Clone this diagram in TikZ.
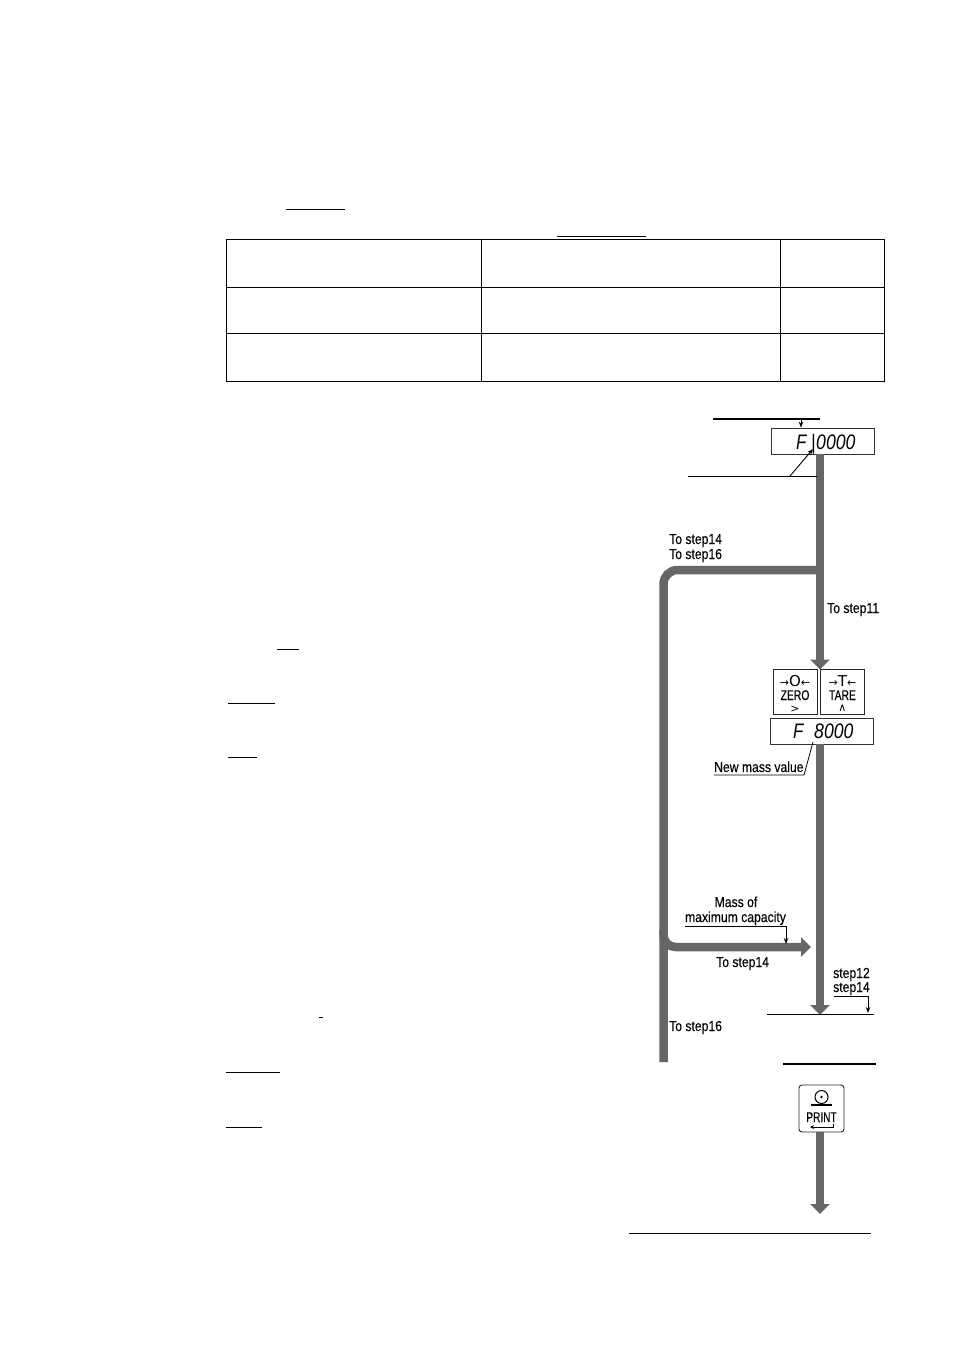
\documentclass[tikz,border=0pt]{standalone}
\usepackage{fontspec}
\setmainfont{Liberation Sans}
\newfontfamily\symfont{DejaVu Sans}
\newfontfamily\lblfont[FakeBold=0.25]{Liberation Sans}
\usetikzlibrary{arrows.meta}
\definecolor{flowgrey}{gray}{0.40}
\tikzset{
  flow/.style={draw=flowgrey,line width=8.5pt},
  flowarrow/.style={flow,-{Triangle[width=19pt,length=10pt,fill=flowgrey]},shorten >=-1pt},
  rule/.style={draw=black,line width=0.8pt},
  thickrule/.style={draw=black,line width=2pt},
  pointer/.style={draw=black,line width=0.9pt,-{Stealth[length=6pt,width=4.5pt]}},
  cell/.style={draw=black,line width=0.9pt},
  label/.style={inner sep=0pt,font=\lblfont\fontsize{14.5}{15}\selectfont,anchor=base west},
  lcd/.style={draw=black!80,line width=0.8pt,fill=white,rectangle,minimum width=#1,minimum height=26pt,inner sep=0pt},
  lcdtext/.style={inner sep=0pt,font=\fontsize{21}{21}\itshape\selectfont,anchor=base west},
  keybox/.style={draw=black!85,line width=0.9pt,fill=white,rectangle,minimum width=44pt,minimum height=45pt,inner sep=0pt},
  keytext/.style={inner sep=0pt,font=\lblfont\fontsize{14}{14}\selectfont,anchor=base},
  keysym/.style={inner sep=0pt,font=\symfont\fontsize{13}{13}\selectfont,anchor=base},
}
\newcommand{\lbl}[1]{\scalebox{0.84}[1]{#1}}
\begin{document}
\begin{tikzpicture}[x=1pt,y=-1pt]
\useasboundingbox (0,0) rectangle (954,1350);
\fill[white] (0,0) rectangle (954,1350);

% text-side underlines
\foreach \xa/\xb/\yy in {286/345/209,557/646/236,277/299/649,228/275/703,228/257/757,319/323/1017,226/280/1072,226/262/1127}
  \draw[rule] (\xa,\yy) -- (\xb,\yy);

% table
\draw[cell] (226,239) rectangle (884,381);
\draw[cell] (226,287) -- (884,287);
\draw[cell] (226,333) -- (884,333);
\draw[cell] (481,239) -- (481,381);
\draw[cell] (780,239) -- (780,381);

% named points
\coordinate (split) at (820,570);
\coordinate (corner) at (663.5,570);
\coordinate (leftend) at (663.5,1062);
\coordinate (branch) at (663.5,930);
\coordinate (capend) at (810,947);
\coordinate (stepbase) at (820,1014);
\coordinate (printend) at (820,1213);

% displays and keys
\node[lcd=103pt] (disp1) at (822.5,441) {};
\node[keybox] (zero) at (795,691.5) {};
\node[keybox] (tare) at (842.5,691.5) {};
\node[lcd=103pt] (disp2) at (821.5,731) {};
\node[keybox,rounded corners=3pt,minimum width=45pt,minimum height=47pt] (print) at (821.5,1108.5) {};

% flow lines
\draw[flow] (disp1.south -| split) -- (split);
\draw[flowarrow] (split) -- (split |- zero.north);
\draw[flow,rounded corners=14pt] (split) -- (corner) -- (leftend);
\draw[flowarrow,rounded corners=12pt] (branch) -- (branch |- capend) -- (capend);
\draw[flowarrow] (disp2.south -| split) -- (stepbase);
\draw[flowarrow] (print.south -| printend) -- (printend);

% display text
\node[lcdtext] (dtF1) at (796,449) {\scalebox{0.8}[1]{F}};
\node[lcdtext] (dtBar) at (811,449) {\scalebox{0.8}[1]{|}};
\node[lcdtext] (dtV1) at (816,449) {\scalebox{0.84}[1]{0000}};
\node[lcdtext] (dtF2) at (793,738) {\scalebox{0.8}[1]{F}};
\node[lcdtext] (dtV2) at (814,738) {\scalebox{0.84}[1]{8000}};

% key text
\node[keysym] (zs) at (795,686) {\fontsize{11}{11}\selectfont →\fontsize{15}{15}\selectfont O\fontsize{11}{11}\selectfont ←};
\node[keytext] (zt) at (795,700) {\scalebox{0.74}[1]{ZERO}};
\node[keysym] (zg) at (795,712) {\fontsize{11}{11}\selectfont >};
\node[keysym] (ts) at (842.5,686) {\fontsize{11}{11}\selectfont →\fontsize{15}{15}\selectfont T\fontsize{11}{11}\selectfont ←};
\node[keytext] (tt) at (842.5,700) {\scalebox{0.74}[1]{TARE}};
\node[keysym] (tg) at (842.5,711.5) {\fontsize{11}{11}\selectfont ∧};
\node[keytext] (pt) at (821.5,1122) {\scalebox{0.72}[1]{PRINT}};

% print icon
\draw[black,line width=1pt] (821.5,1097) circle (6.5pt);
\fill[black] (821.5,1097) circle (1.4pt);
\draw[black,line width=1.4pt] (811,1105) -- (832,1105);
\draw[black,line width=1pt,-{Stealth[length=4pt,width=4pt]}] (833,1124) -- (833,1127) -- (810,1127);

% labels
\node[label] (l14) at (669,544) {\lbl{To step14}};
\node[label] (l16) at (669,559) {\lbl{To step16}};
\node[label] (l11) at (827,613) {\lbl{To step11}};
\node[label] (lnew) at (714,772) {\lbl{New mass value}};
\node[label,anchor=base] (lm1) at (736,907) {\lbl{Mass of}};
\node[label,anchor=base] (lm2) at (735.5,922) {\lbl{maximum capacity}};
\node[label] (lt14) at (716,967) {\lbl{To step14}};
\node[label] (ls12) at (833,978) {\lbl{step12}};
\node[label] (ls14) at (833,992) {\lbl{step14}};
\node[label] (lt16) at (669,1031) {\lbl{To step16}};

% rules and pointers
\coordinate (r1a) at (713,419); \coordinate (r1b) at (820,419);
\draw[thickrule] (r1a) -- (r1b);
\coordinate (p1) at (801,419);
\draw[pointer] (p1) -- (p1 |- disp1.north);
\coordinate (r2a) at (688,476); \coordinate (r2b) at (817,476);
\draw[rule] (r2a) -- (r2b);
\coordinate (p2) at (790,476); \coordinate (p2e) at (813,449);
\draw[pointer] (p2) -- (p2e);
\coordinate (r3a) at (714,775); \coordinate (r3b) at (804,775);
\draw[rule] (r3a) -- (r3b) -- (813,742);
\coordinate (r4a) at (685,926); \coordinate (r4b) at (786,926);
\draw[rule] (r4a) -- (r4b);
\draw[pointer] (r4b) -- (786,944);
\coordinate (r5a) at (834,996); \coordinate (r5b) at (868,996);
\draw[rule] (r5a) -- (r5b);
\draw[pointer] (r5b) -- (868,1013);
\coordinate (r6a) at (767,1014); \coordinate (r6b) at (874,1014);
\draw[rule] (r6a) -- (r6b);
\coordinate (r7a) at (783,1064); \coordinate (r7b) at (876,1064);
\draw[thickrule] (r7a) -- (r7b);
\coordinate (r8a) at (629,1233); \coordinate (r8b) at (871,1233);
\draw[rule] (r8a) -- (r8b);
\end{tikzpicture}
\end{document}
